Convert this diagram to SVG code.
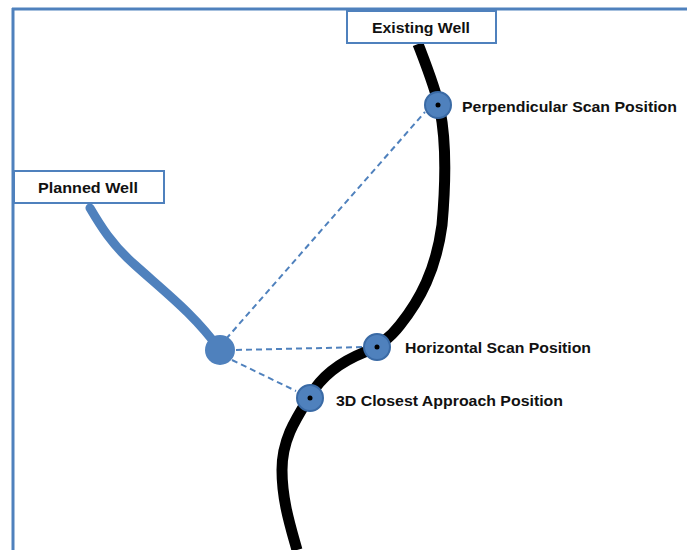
<svg xmlns="http://www.w3.org/2000/svg" width="687" height="550" viewBox="0 0 687 550">
<style>
.lbl{font-family:"Liberation Sans","Open Sans",sans-serif;font-weight:bold;font-size:15px;fill:#111}
.box{fill:#fff;stroke:#4f81bd;stroke-width:2}
.dash{stroke:#4f81bd;stroke-width:2;stroke-dasharray:6,4;fill:none}
.pt{fill:#4f81bd;stroke:#3a6aa5;stroke-width:2}
</style>
<rect width="687" height="550" fill="#fff"/>
<g id="frame" fill="none" stroke="#4f81bd" stroke-width="3">
<path d="M12 9 H687 M13 8 V550"/>
</g>
<g id="connectors">
<path class="dash" d="M226 339 L425 112"/>
<path class="dash" d="M236 350 L364 347"/>
<path class="dash" d="M232 360 L296 391"/>
</g>
<g id="existing-well-path">
<path d="M418 44 C428 70 436 90 440 110 C446 140 446 180 442 225 C436 270 420 300 400 325 C390 338 380 345 365 352 C340 362 322 375 310 396 C295 420 282 440 282 470 C282 500 290 525 297 550" fill="none" stroke="#000" stroke-width="11"/>
</g>
<g id="planned-well-path">
<path d="M90 208 C100 225 112 245 135 265 C165 292 195 315 220 350" fill="none" stroke="#4f81bd" stroke-width="9" stroke-linecap="round"/>
<circle cx="220" cy="350" r="15" fill="#4f81bd"/>
</g>
<g id="existing-well">
<rect class="box" x="347" y="11" width="149" height="32"/>
<text class="lbl" x="421" y="33" text-anchor="middle" textLength="98" lengthAdjust="spacingAndGlyphs">Existing Well</text>
</g>
<g id="planned-well">
<rect class="box" x="14" y="171" width="150" height="32"/>
<text class="lbl" x="88" y="193" text-anchor="middle" textLength="100" lengthAdjust="spacingAndGlyphs">Planned Well</text>
</g>
<g id="perpendicular">
<circle class="pt" cx="438" cy="105" r="13"/>
<circle cx="438" cy="105" r="2.5" fill="#000"/>
<text class="lbl" x="462" y="112" textLength="215" lengthAdjust="spacingAndGlyphs">Perpendicular Scan Position</text>
</g>
<g id="horizontal">
<circle class="pt" cx="377" cy="347" r="13"/>
<circle cx="377" cy="347" r="2.5" fill="#000"/>
<text class="lbl" x="405" y="353" textLength="186" lengthAdjust="spacingAndGlyphs">Horizontal Scan Position</text>
</g>
<g id="closest">
<circle class="pt" cx="310" cy="398" r="13"/>
<circle cx="310" cy="398" r="2.5" fill="#000"/>
<text class="lbl" x="336" y="406" textLength="227" lengthAdjust="spacingAndGlyphs">3D Closest Approach Position</text>
</g>
</svg>
